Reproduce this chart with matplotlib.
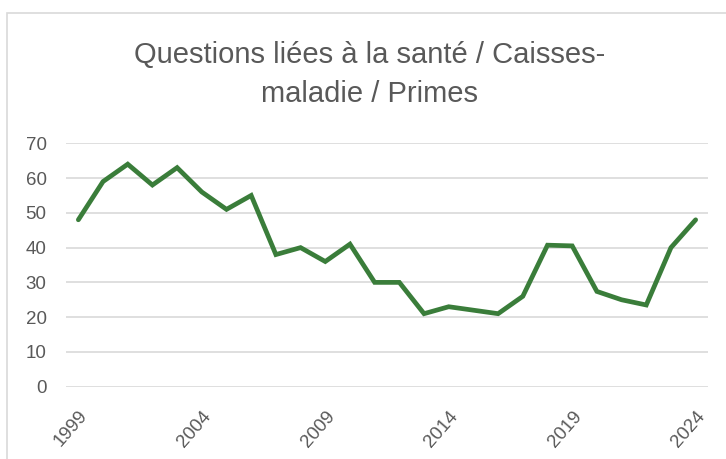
import matplotlib
matplotlib.use('Agg')
import matplotlib.pyplot as plt
from matplotlib.patches import Rectangle

years = list(range(1999, 2025))
values = [48, 59, 64, 58, 63, 56, 51, 55, 38, 40, 36, 41, 30, 30,
          21, 23, 22, 21, 26, 40.7, 40.5, 27.4, 25, 23.5, 40, 48]
tick_years = [1999, 2004, 2009, 2014, 2019, 2024]
title = 'Questions liées à la santé / Caisses-\nmaladie / Primes'

text_color = '#595959'
grid_color = '#d9d9d9'
line_color = '#3a7d3a'

plt.rcParams['font.family'] = ['Liberation Sans', 'DejaVu Sans']

fig = plt.figure(figsize=(7.26, 4.59), dpi=100)
fig.patches.append(Rectangle((7 / 726, -0.1), 1.2, 1 - 13 / 459 + 0.1,
                             transform=fig.transFigure, fill=False,
                             edgecolor=grid_color, linewidth=1.2))

ax = fig.add_axes([66 / 726, 1 - 386.7 / 459, 642 / 726, (386.7 - 143.3) / 459])
ax.plot(years, values, color=line_color, linewidth=3.4, solid_capstyle='round',
        solid_joinstyle='miter')

ax.set_xlim(years[0] - 0.5, years[-1] + 0.5)
ax.set_ylim(0, 70)
ax.set_yticks(range(0, 71, 10))
ax.set_xticks(tick_years)
ax.set_xticklabels([str(y) for y in tick_years], rotation=49, ha='right',
                   va='top', rotation_mode='anchor')
ax.tick_params(axis='both', length=0, labelsize=13.5, colors=text_color)
ax.tick_params(axis='y', pad=14)
ax.tick_params(axis='x', pad=15)
ax.grid(axis='y', color=grid_color, linewidth=1.2)
ax.set_axisbelow(True)
for side in ax.spines:
    ax.spines[side].set_visible(False)

fig.text(0.509, 1 - 75 / 459, title, ha='center', va='center', fontsize=21,
         color=text_color, linespacing=1.5)

fig.savefig('out.png', dpi=100)
